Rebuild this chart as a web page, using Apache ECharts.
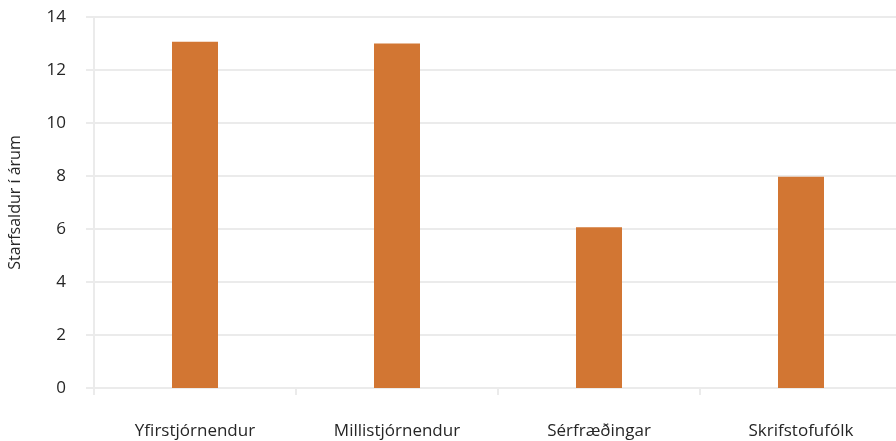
<!DOCTYPE html>
<html>
<head>
<meta charset="utf-8">
<script src="https://cdn.jsdelivr.net/npm/echarts@6/dist/echarts.min.js"></script>
<style>
  html, body { margin: 0; padding: 0; background: #fff; }
  #chart { width: 896px; height: 441px; }
</style>
</head>
<body>
<div id="chart"></div>
<script>
const categories = ["Yfirstjórnendur", "Millistjórnendur", "Sérfræðingar", "Skrifstofufólk"];
const values = [13.07, 13.0, 6.07, 7.97];
const yTicks = { min: 0, max: 14, interval: 2 };
const yName = "Starfsaldur í árum";

const gridColor = "#ebebeb";
const textColor = "#262626";
const font = "'Open Sans', sans-serif";

const chart = echarts.init(document.getElementById("chart"));
chart.setOption({
  animation: false,
  grid: { left: 94, right: -6, top: 17, bottom: 53, outerBoundsMode: "none", containLabel: false },
  xAxis: {
    type: "category",
    data: categories,
    axisLine: { lineStyle: { color: gridColor, width: 2 } },
    axisTick: { show: true, length: 7, lineStyle: { color: gridColor, width: 2 } },
    axisLabel: { color: textColor, fontSize: 17, fontFamily: font, margin: 35 },
  },
  yAxis: {
    type: "value",
    min: yTicks.min,
    max: yTicks.max,
    interval: yTicks.interval,
    name: yName,
    nameLocation: "middle",
    nameGap: 71,
    nameTextStyle: { color: textColor, fontSize: 16, fontFamily: font },
    axisLine: { show: true, lineStyle: { color: gridColor, width: 2 } },
    axisTick: { show: true, length: 8, lineStyle: { color: gridColor, width: 2 } },
    axisLabel: { color: textColor, fontSize: 17, fontFamily: font, margin: 28 },
    splitLine: { lineStyle: { color: gridColor, width: 2 } },
  },
  series: [{
    type: "bar",
    data: values,
    barWidth: 46,
    itemStyle: { color: "#d27633" },
  }],
});
</script>
</body>
</html>
